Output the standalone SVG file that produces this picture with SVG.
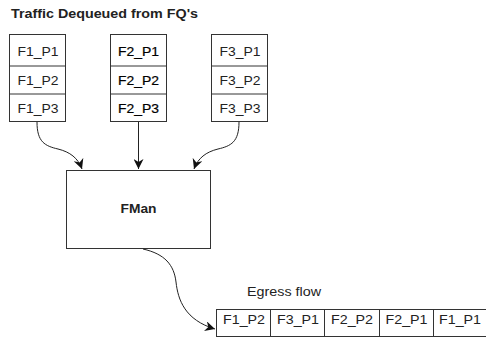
<svg xmlns="http://www.w3.org/2000/svg" width="486" height="341" viewBox="0 0 486 341">
<style>
.box{fill:#fff;stroke:#333;stroke-width:1}
.t{font-family:"Liberation Sans",Arial,sans-serif;font-size:12px;fill:#222;text-anchor:middle}
.b{font-weight:bold}
.dk{fill:#000;stroke:#000;stroke-width:0.2}
.c{fill:none;stroke:#222;stroke-width:1}
</style>
<defs>
<marker id="ah" viewBox="0 0 10 10" refX="10" refY="5" markerWidth="10" markerHeight="10" markerUnits="userSpaceOnUse" orient="auto">
<path d="M0,0 L10,5 L0,10 L3,5 z" fill="#111"/>
</marker>
</defs>
<text x="11" y="17.5" class="t b" style="text-anchor:start;font-size:12.5px" textLength="187" lengthAdjust="spacingAndGlyphs">Traffic Dequeued from FQ's</text>

<g id="fq1">
<rect class="box" x="9.5" y="34.5" width="56" height="87"/>
<line class="box" x1="9.5" y1="66" x2="65.5" y2="66"/>
<line class="box" x1="9.5" y1="94" x2="65.5" y2="94"/>
<text class="t" x="38" y="56" textLength="41" lengthAdjust="spacingAndGlyphs">F1_P1</text>
<text class="t" x="38" y="85" textLength="41" lengthAdjust="spacingAndGlyphs">F1_P2</text>
<text class="t" x="38" y="113" textLength="41" lengthAdjust="spacingAndGlyphs">F1_P3</text>
</g>
<g id="fq2">
<rect class="box" x="110.5" y="34.5" width="56" height="87"/>
<line class="box" x1="110.5" y1="66" x2="166.5" y2="66"/>
<line class="box" x1="110.5" y1="94" x2="166.5" y2="94"/>
<text class="t dk" x="138.5" y="56" textLength="41" lengthAdjust="spacingAndGlyphs">F2_P1</text>
<text class="t dk" x="138.5" y="85" textLength="41" lengthAdjust="spacingAndGlyphs">F2_P2</text>
<text class="t dk" x="138.5" y="113" textLength="41" lengthAdjust="spacingAndGlyphs">F2_P3</text>
</g>
<g id="fq3">
<rect class="box" x="211.5" y="34.5" width="56" height="87"/>
<line class="box" x1="211.5" y1="66" x2="267.5" y2="66"/>
<line class="box" x1="211.5" y1="94" x2="267.5" y2="94"/>
<text class="t" x="240" y="56" textLength="41" lengthAdjust="spacingAndGlyphs">F3_P1</text>
<text class="t" x="240" y="85" textLength="41" lengthAdjust="spacingAndGlyphs">F3_P2</text>
<text class="t" x="240" y="113" textLength="41" lengthAdjust="spacingAndGlyphs">F3_P3</text>
</g>

<g id="fman">
<rect class="box" x="66.5" y="170.5" width="144" height="78"/>
<text class="t b" x="138.5" y="213" textLength="36" lengthAdjust="spacingAndGlyphs">FMan</text>
</g>

<g id="egress">
<text class="t" x="247" y="296" style="text-anchor:start" textLength="74" lengthAdjust="spacingAndGlyphs">Egress flow</text>
<rect class="box" x="216.5" y="309.5" width="270" height="27"/>
<line class="box" x1="270.5" y1="309.5" x2="270.5" y2="336.5"/>
<line class="box" x1="324.5" y1="309.5" x2="324.5" y2="336.5"/>
<line class="box" x1="379.5" y1="309.5" x2="379.5" y2="336.5"/>
<line class="box" x1="433.5" y1="309.5" x2="433.5" y2="336.5"/>
<text class="t" x="244" y="324" textLength="42" lengthAdjust="spacingAndGlyphs">F1_P2</text>
<text class="t" x="298" y="324" textLength="42" lengthAdjust="spacingAndGlyphs">F3_P1</text>
<text class="t" x="352" y="324" textLength="42" lengthAdjust="spacingAndGlyphs">F2_P2</text>
<text class="t" x="406.5" y="324" textLength="42" lengthAdjust="spacingAndGlyphs">F2_P1</text>
<text class="t" x="460" y="324" textLength="42" lengthAdjust="spacingAndGlyphs">F1_P1</text>
</g>

<g id="connectors">
<path class="c" d="M37,122 C37,142 45,146 58,149 C70,152 78,158 82,169" marker-end="url(#ah)"/>
<path class="c" d="M138.5,122 L138.5,169" marker-end="url(#ah)"/>
<path class="c" d="M239,122 C239,142 231,146 218,149 C206,152 198,158 194,169" marker-end="url(#ah)"/>
<path class="c" d="M143,249 C165,254 174,265 176,282 C178,300 185,320 215,329" marker-end="url(#ah)"/>
</g>
</svg>
